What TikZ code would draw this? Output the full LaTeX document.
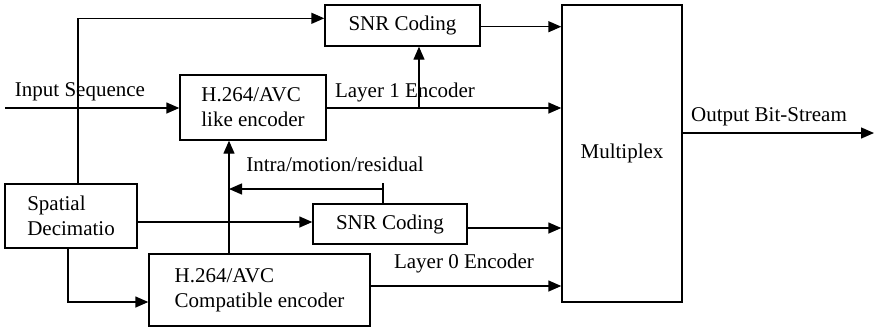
\documentclass[tikz,border=0pt]{standalone}
\usepackage{fontspec}
\setmainfont{Liberation Serif}
\usetikzlibrary{arrows.meta}
\usetikzlibrary{calc}

\begin{document}
\begin{tikzpicture}[x=0.5pt, y=-0.5pt,
    every node/.style={font=\fontsize{10.5}{12.6}\selectfont},
    blk/.style={draw, line width=0.7pt, inner sep=0pt, align=left},
    lbl/.style={inner sep=0pt},
    arr/.style={line width=0.7pt, -{Triangle[length=6.5pt, width=5.5pt]}},
    wire/.style={line width=0.7pt}]
  \useasboundingbox (0,0) rectangle (874,328);

  % blocks
  \node[blk, minimum width=77.5pt, minimum height=20.5pt] (snrA) at (402.5,25.5) {SNR Coding};
  \node[blk, minimum width=73pt, minimum height=32.5pt] (like) at (253,107.5) {H.264/AVC\\like encoder};
  \node[blk, minimum width=60pt, minimum height=148.5pt] (mux) at (622,153.5) {Multiplex};
  \node[blk, minimum width=66pt, minimum height=32pt] (dec) at (71,216) {Spatial\\Decimatio};
  \node[blk, minimum width=77pt, minimum height=20pt] (snrB) at (390,224) {SNR Coding};
  \node[blk, minimum width=110.5pt, minimum height=36pt] (comp) at (259.5,290) {H.264/AVC\\Compatible encoder};

  % labels
  \node[lbl] (inlbl) at (80,92) {Input Sequence};
  \node[lbl] (l1lbl) at (405,92) {Layer 1 Encoder};
  \node[lbl] (fblbl) at (335,164) {Intra/motion/residual};
  \node[lbl] (l0lbl) at (464,263) {Layer 0 Encoder};
  \node[lbl] (outlbl) at (769,117) {Output Bit-Stream};

  % free ends and taps
  \coordinate (in) at (5,108);
  \coordinate (br1) at (419,108);
  \coordinate (fb) at (229,189);
  \coordinate (stub) at (383,183);
  \coordinate (out) at (874,133);

  % enhancement path
  \draw[arr] (in) -- (in -| like.west);
  \draw[arr] ([xshift=3.5pt]dec.north) |- ([yshift=3.6pt]snrA.west);
  \draw[arr] (like.east |- in) -- (in -| mux.west);
  \draw[arr] (br1) -- (br1 |- snrA.south);
  \draw[arr] ([yshift=-0.6pt]snrA.east) -- ([yshift=-0.6pt]snrA.east -| mux.west);

  % base layer path
  \draw[arr] ([xshift=-1.5pt]dec.south) |- ([yshift=-6pt]comp.west);
  \draw[arr] ([yshift=2pt]comp.east) -- ([yshift=2pt]comp.east -| mux.west);
  \draw[arr] (comp.north -| fb) -- (like.south -| fb);
  \draw[arr] ([yshift=-3pt]dec.east) -- ([yshift=-3pt]dec.east -| snrB.west);
  \draw[arr] ([yshift=-2pt]snrB.east) -- ([yshift=-2pt]snrB.east -| mux.west);
  \draw[wire] (snrB.north -| stub) -- (stub);
  \draw[arr] (stub |- fb) -- (fb);

  % output
  \draw[arr] (mux.east |- out) -- (out);
\end{tikzpicture}
\end{document}
